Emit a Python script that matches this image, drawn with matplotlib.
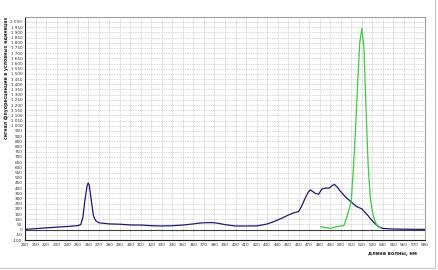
import numpy as np
import matplotlib
matplotlib.use('Agg')
import matplotlib.pyplot as plt
from matplotlib.ticker import FuncFormatter, MultipleLocator

# blue spectrum (wavelength nm, signal)
blue_nm = [200, 205, 210, 215, 220, 225, 230, 235, 240, 245, 250, 253, 255, 257, 259, 260,
           261, 263, 265, 267, 270, 280, 290, 300, 310, 320, 330, 340, 350, 360, 365, 370,
           375, 380, 385, 390, 400, 410, 420, 425, 430, 435, 440, 445, 450, 455, 460, 463,
           466, 469, 471, 473, 476, 479, 482, 485, 489, 492, 494, 497, 500, 505, 510, 515,
           520, 525, 528, 532, 536, 540, 545, 550, 560, 570, 580]
blue_val = [3, 6, 9, 13, 17, 20, 24, 27, 30, 34, 38, 48, 120, 290, 420, 450,
            430, 280, 135, 88, 66, 55, 52, 45, 44, 38, 35, 38, 44, 55, 62, 66,
            68, 66, 58, 48, 35, 35, 36, 44, 54, 72, 92, 115, 140, 160, 175, 230,
            300, 360, 383, 370, 348, 342, 390, 400, 400, 425, 436, 405, 365, 310, 265, 222,
            200, 145, 108, 62, 28, 12, 8, 6, 4, 3, 2]

# green spectrum
green_nm = [481, 485, 490, 495, 500, 503, 506, 508, 510, 512, 514, 516, 518, 520,
            522, 524, 526, 528, 530, 532, 534, 536, 538]
green_val = [28, 20, 12, 25, 35, 40, 130, 200, 280, 600, 960, 1400, 1800, 1940,
             1750, 1150, 620, 310, 175, 95, 50, 28, 15]

xticks = list(range(200, 590, 10))

fig = plt.figure(figsize=(4.38, 2.70), dpi=100)
ax = fig.add_axes([25 / 438, 30 / 270, 400 / 438, 223 / 270])

ax.plot(blue_nm, blue_val, color='#1c1c78', lw=0.9)
ax.plot(green_nm, green_val, color='#3ccc3c', lw=0.9)
ax.axhline(0, color='#404040', lw=0.8, zorder=1)

ax.set_xlim(200, 580)
ax.set_ylim(-100, 2048)
ax.set_xticks(xticks)
ax.yaxis.set_major_locator(MultipleLocator(50))
ax.yaxis.set_major_formatter(FuncFormatter(lambda v, p: '{:,}'.format(int(v)).replace(',', ' ')))
ax.tick_params(labelsize=3.0, length=0, pad=2, colors='#303030')
ax.grid(True, color='#b0b0b0', lw=0.5, ls=(0, (1, 1.5)))
ax.set_axisbelow(True)

for s in ['top', 'right']:
    ax.spines[s].set_color('#a0a0a0')
    ax.spines[s].set_linewidth(0.8)
for s in ['left', 'bottom']:
    ax.spines[s].set_color('#202020')
    ax.spines[s].set_linewidth(0.8)

fig.text(7 / 438, 1 - 78 / 270, 'сигнал флуоресценции в условных единицах',
         rotation=90, ha='center', va='center', fontsize=3.3, fontweight='bold', color='#303030')
fig.text(392 / 438, 1 - 254 / 270, 'длина волны, нм', ha='center', va='center',
         fontsize=3.6, fontweight='bold', color='#303030')

# light border of the window
fig.add_artist(plt.Line2D([435 / 438, 435 / 438], [2 / 270, 1], transform=fig.transFigure,
                          color='#c8c8c8', lw=0.8))
fig.add_artist(plt.Line2D([0, 435 / 438], [2 / 270, 2 / 270], transform=fig.transFigure,
                          color='#c8c8c8', lw=0.8))

fig.savefig('out.png', dpi=100)
